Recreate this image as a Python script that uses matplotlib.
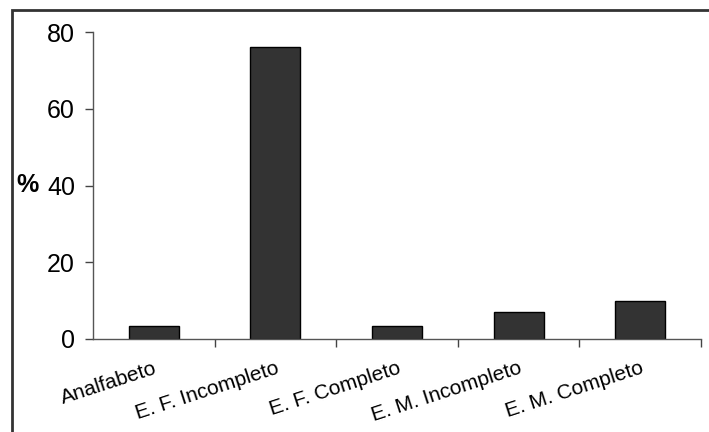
import matplotlib.pyplot as plt
from matplotlib.patches import Rectangle

plt.rcParams['font.family'] = ['Liberation Sans', 'DejaVu Sans']

categorias = ['Analfabeto', 'E. F. Incompleto', 'E. F. Completo',
              'E. M. Incompleto', 'E. M. Completo']
percentuais = [3.5, 76.0, 3.5, 7.0, 10.0]
yticks = [0, 20, 40, 60, 80]

fig = plt.figure(figsize=(7.09, 4.32), dpi=100)
ax = fig.add_axes([93 / 709, 93 / 432, 608 / 709, 307 / 432])

# moldura do grafico (so topo e esquerda aparecem)
fig.patches.append(Rectangle((12 / 709, -0.1), 1.2, (422 / 432) + 0.1,
                             transform=fig.transFigure, fill=False,
                             edgecolor='#333333', linewidth=2))

xs = list(range(len(categorias)))
ax.bar(xs, percentuais, width=0.41, color='#333333',
       edgecolor='black', linewidth=1)

ax.set_xlim(-0.5, len(categorias) - 0.5)
ax.set_ylim(0, 80)
ax.set_yticks(yticks)
ax.set_yticklabels([str(v) for v in yticks], fontsize=18)
ax.tick_params(axis='y', length=6, width=1, color='#444444', pad=7)

ax.set_xticks(xs)
ax.set_xticklabels(categorias, fontsize=15, rotation=18,
                   ha='right', va='top', rotation_mode='anchor')
ax.tick_params(axis='x', which='major', length=0, pad=14)
ax.set_xticks([x + 0.5 for x in xs], minor=True)
ax.tick_params(axis='x', which='minor', length=6, width=1, color='#444444')

for s in ['top', 'right']:
    ax.spines[s].set_visible(False)
for s in ['left', 'bottom']:
    ax.spines[s].set_color('#555555')
    ax.spines[s].set_linewidth(1)

fig.text(16 / 709, 1 - 185 / 432, '%', fontsize=18, fontweight='bold',
         ha='left', va='center')

fig.savefig('out.png', dpi=100)
